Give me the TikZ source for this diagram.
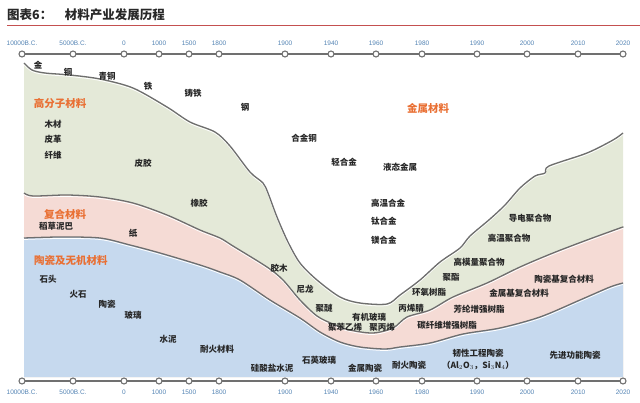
\documentclass[tikz,border=0pt]{standalone}
\usepackage{fontspec}
\setmainfont{Liberation Sans}
\newfontfamily\cjk{Noto Sans CJK SC}
\usetikzlibrary{positioning}
\definecolor{polycolor}{RGB}{228,233,216}
\definecolor{compcolor}{RGB}{245,219,213}
\definecolor{cercolor}{RGB}{198,217,238}
\definecolor{groupcolor}{RGB}{233,112,52}
\definecolor{yearcolor}{RGB}{84,132,180}
\definecolor{axiscolor}{RGB}{112,112,112}
\definecolor{rimcolor}{RGB}{110,110,110}
\definecolor{titlecolor}{RGB}{40,40,40}
\definecolor{titleline}{RGB}{196,80,80}

% boundaries between the material groups, from left to right
\newcommand\polytop{plot[smooth,tension=0.5] coordinates {(24,63) (32,70) (45,73) (70,75) (100,79) (133,88) (167,107) (190,122) (215,132) (230,146) (250,172) (263,183) (268,193) (277,217) (288,242) (300,263) (317,280) (340,297) (360,303) (387,304) (400,295) (420,280) (440,262) (460,248) (470,236) (490,219) (505,205) (520,188) (535,176) (545,173) (549,166) (587,153) (613,140) (623,133)}}
\newcommand\comptop{plot[smooth,tension=0.5] coordinates {(24,193) (33,196) (67,195) (100,197) (133,203) (167,215) (200,230) (220,238) (233,246) (267,267) (283,280) (300,300) (317,316) (333,324) (350,330) (373,333) (393,328) (407,317) (430,310) (453,297) (487,283) (520,267) (553,253) (587,240) (620,228) (623,227)}}
\newcommand\certop{plot[smooth,tension=0.5] coordinates {(24,238) (60,237) (100,238) (130,245) (160,253) (200,265) (220,272) (240,280) (270,300) (300,318) (320,332) (340,342) (360,347) (385,349) (400,347) (430,343) (463,334) (500,328) (540,317) (580,300) (610,287) (623,283)}}

\begin{document}
\begin{tikzpicture}[x=1pt,y=-1pt,
    matname/.style={font=\cjk\bfseries\fontsize{8.5}{9}\selectfont, text=black!85, inner sep=0pt},
    group/.style={font=\cjk\bfseries\fontsize{10.5}{11}\selectfont, text=groupcolor, inner sep=0pt},
    year/.style={font=\fontsize{6.5}{7}\selectfont, text=yearcolor, inner sep=0pt},
    yeartick/.style={circle, draw=axiscolor, fill=white, line width=1.1pt, inner sep=0pt, minimum size=6pt},
    timeline/.style={draw=axiscolor, line width=2.6pt},
    rim/.style={draw=rimcolor, line width=1.3pt},
    glint/.style={draw=white, line width=0.8pt, shift={(0,1.5)}}
    ]
\useasboundingbox (0,0) rectangle (640,403);

% title
\node[anchor=west, inner sep=0pt, font=\cjk\bfseries\fontsize{12.5}{13}\selectfont, text=titlecolor] (title) at (7,15) {图表6：\quad 材料产业发展历程};
\draw[titleline, line width=0.6pt] (7,25) -- (640,25);

% bands
\fill[polycolor] \polytop -- (623,377) -- (24,377) -- cycle;
\fill[compcolor] \comptop -- (623,377) -- (24,377) -- cycle;
\fill[cercolor] \certop -- (623,377) -- (24,377) -- cycle;
\draw[glint] \polytop;
\draw[rim] \polytop;
\draw[glint] \comptop;
\draw[rim] \comptop;
\draw[glint] \certop;
\draw[rim] \certop;

% time axes
\draw[timeline] (22,54) -- (623,54);
\draw[timeline] (22,381) -- (623,381);
\foreach \yr/\xx [count=\i] in {10000B.C./22, 5000B.C./73, 0/124, 1000/159, 1500/189, 1800/219, 1900/285, 1940/331, 1960/376, 1980/422, 1990/477, 2000/527, 2010/578, 2020/623}
{
    \node[yeartick] (up\i) at (\xx,54) {};
    \node[year, above=5pt of up\i] (upyr\i) {\yr};
    \node[yeartick] (dn\i) at (\xx,381) {};
    \node[year, below=5pt of dn\i] (dnyr\i) {\yr};
}

% metals
\node[group] (grpmetal) at (428,108) {金属材料};
\node[matname] (gold) at (38,65) {金};
\node[matname] (copper) at (68,72) {铜};
\node[matname] (bronze) at (107,76) {青铜};
\node[matname] (iron) at (148,86) {铁};
\node[matname] (castiron) at (193,93) {铸铁};
\node[matname] (steel) at (245,107) {钢};
\node[matname] (alloycu) at (304,138) {合金铜};
\node[matname] (lightalloy) at (344,162) {轻合金};
\node[matname] (liquidmetal) at (400,167) {液态金属};
\node[matname] (superalloy) at (388,203) {高温合金};
\node[matname, below=10pt of superalloy.south west, anchor=north west] (tialloy) {钛合金};
\node[matname, below=10pt of tialloy.south west, anchor=north west] (mgalloy) {镁合金};

% polymers
\node[group] (grppoly) at (60,103) {高分子材料};
\node[matname] (wood) at (53,124) {木材};
\node[matname, below=7pt of wood] (leather) {皮革};
\node[matname, below=7pt of leather] (fibre) {纤维};
\node[matname] (hideglue) at (143,163) {皮胶};
\node[matname] (rubber) at (199,203) {橡胶};
\node[matname] (bakelite) at (279,268) {胶木};
\node[matname] (nylon) at (305,289) {尼龙};
\node[matname] (polyether) at (324,308) {聚醚};
\node[matname] (pmma) at (369,317) {有机玻璃};
\node[matname] (ps) at (345,327) {聚苯乙烯};
\node[matname] (pp) at (382,327) {聚丙烯};
\node[matname] (acrylo) at (411,308) {丙烯腈};
\node[matname] (epoxy) at (429,292) {环氧树脂};
\node[matname] (polyester) at (451,277) {聚酯};
\node[matname] (highmod) at (479,262) {高模量聚合物};
\node[matname] (hightemp) at (509,238) {高温聚合物};
\node[matname] (conductive) at (530,218) {导电聚合物};

% composites
\node[group] (grpcomp) at (65,214) {复合材料};
\node[matname] (strawmud) at (56,226) {稻草泥巴};
\node[matname] (paper) at (133,233) {纸};
\node[matname] (carbon) at (447,325) {碳纤维增强树脂};
\node[matname] (aramid) at (479,309) {芳纶增强树脂};
\node[matname] (mmc) at (519,293) {金属基复合材料};
\node[matname] (cmc) at (564,279) {陶瓷基复合材料};

% ceramics and inorganics
\node[group] (grpcer) at (71,261) {陶瓷及无机材料};
\node[matname] (stone) at (48,279) {石头};
\node[matname] (flint) at (78,294) {火石};
\node[matname] (pottery) at (107,304) {陶瓷};
\node[matname] (glass) at (133,315) {玻璃};
\node[matname] (cement) at (168,339) {水泥};
\node[matname] (refract) at (217,349) {耐火材料};
\node[matname] (portland) at (272,368) {硅酸盐水泥};
\node[matname] (quartz) at (319,360) {石英玻璃};
\node[matname] (cermet) at (365,368) {金属陶瓷};
\node[matname] (refcer) at (409,365) {耐火陶瓷};
\node[matname] (toughcer) at (478,353) {韧性工程陶瓷};
\node[matname, below=4pt of toughcer] (toughcerf) {（Al$_2$O$_3$，Si$_3$N$_4$）};
\node[matname] (funccer) at (575,355) {先进功能陶瓷};

\end{tikzpicture}
\end{document}
